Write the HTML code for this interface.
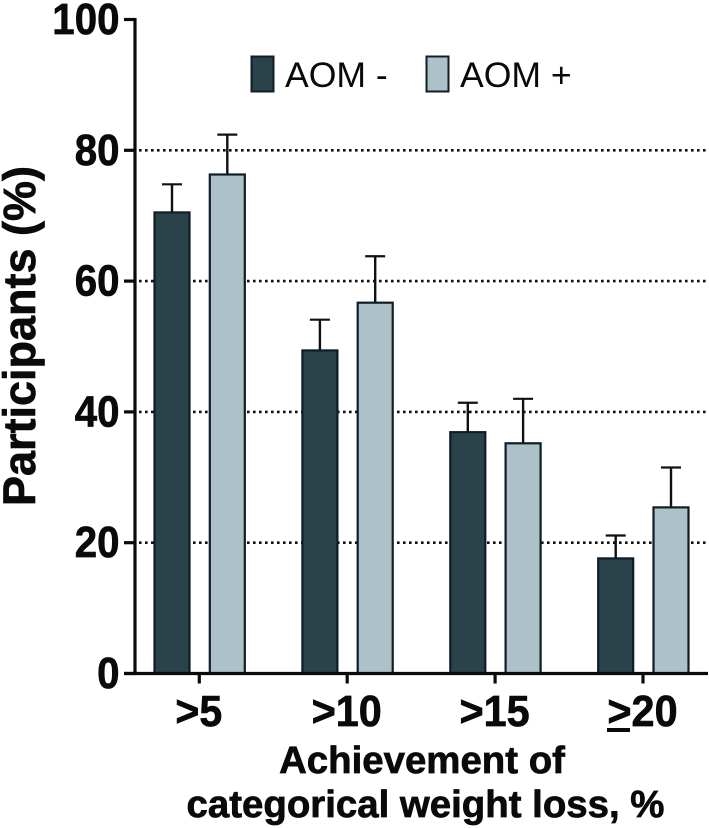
<!DOCTYPE html>
<html>
<head>
<meta charset="utf-8">
<title>Participants achieving categorical weight loss</title>
<style>
html,body{margin:0;padding:0;background:#fff;width:709px;height:828px;overflow:hidden}
svg{display:block}
text{font-family:"Liberation Sans",sans-serif;fill:#0a0a0a}
.b{font-weight:bold;stroke:#0a0a0a;stroke-width:0.7px}
</style>
</head>
<body>
<svg id="chart" xmlns="http://www.w3.org/2000/svg" width="709" height="828" viewBox="0 0 709 828"></svg>
<script>
const categories = ['>5', '>10', '>15', '>20'];
const aomMinus = [70.5, 49.4, 36.9, 17.6];
const aomPlus = [76.3, 56.7, 35.2, 25.4];
const aomMinusErrTop = [74.8, 54.1, 41.4, 21.1];
const aomPlusErrTop = [82.4, 63.8, 42.0, 31.5];
const yTicks = [0, 20, 40, 60, 80, 100];
const gridValues = [20, 40, 60, 80];

const svg = document.getElementById('chart');
const NS = 'http://www.w3.org/2000/svg';
function y(v) { return 673.5 - v * 6.54; }
function groupX(i) { return 199.3 + i * 147.9; }
function make(tag, attrs, text) {
  const el = document.createElementNS(NS, tag);
  for (const k in attrs) el.setAttribute(k, attrs[k]);
  if (text !== undefined) el.textContent = text;
  svg.appendChild(el);
  return el;
}
const DARK = '#2a4249', LIGHT = '#adc1c8', EDGE = '#101c26';

// gridlines
gridValues.forEach(function (v) {
  const el = make('line', {x1: 139, x2: 708, y1: y(v), y2: y(v), stroke: '#111', 'stroke-width': 2.6, 'stroke-dasharray': '2.6 3.4'});
  
  
});

// bars and error bars
function drawSeries(values, tops, offset, fill, name) {
  values.forEach(function (v, i) {
    const cx = groupX(i) + offset;
    const stem = make('line', {x1: cx, x2: cx, y1: y(tops[i]), y2: y(v), stroke: '#111', 'stroke-width': 2.4});
    
    
    const cap = make('line', {x1: cx - 10, x2: cx + 10, y1: y(tops[i]), y2: y(tops[i]), stroke: '#111', 'stroke-width': 2.2});
    
    
    const bar = make('rect', {x: cx - 17.5, y: y(v), width: 35, height: y(0) - y(v), fill: fill, stroke: EDGE, 'stroke-width': 2.2});
    
    
  });
}
drawSeries(aomMinus, aomMinusErrTop, -27.3, DARK, 'aom-minus');
drawSeries(aomPlus, aomPlusErrTop, 28, LIGHT, 'aom-plus');

// axes
const yAxis = make('line', {x1: 135, x2: 135, y1: y(100) - 1.5, y2: y(0) + 1.5, stroke: '#0a0a0a', 'stroke-width': 3.2});


const xAxis = make('line', {x1: 124, x2: 708, y1: y(0), y2: y(0), stroke: '#0a0a0a', 'stroke-width': 3.2});



yTicks.forEach(function (v) {
  const t = make('line', {x1: 124, x2: 135, y1: y(v), y2: y(v), stroke: '#0a0a0a', 'stroke-width': 3.2});
  
  
  const label = String(v);
  const l = make('text', {class: 'b', x: 119.5, y: y(v) + 14.5, 'text-anchor': 'end', 'font-size': 44, textLength: label.length * 22.4, lengthAdjust: 'spacingAndGlyphs'}, label);
  
  
});

categories.forEach(function (c, i) {
  const x = groupX(i);
  const t = make('line', {x1: x, x2: x, y1: y(0), y2: y(0) + 10, stroke: '#0a0a0a', 'stroke-width': 3.2});
  
  
  const l = make('text', {class: 'b', x: x - 0.5, y: 726, 'text-anchor': 'middle', 'font-size': 44, textLength: c.length * 23.4, lengthAdjust: 'spacingAndGlyphs'}, c);
  
  
});
// underline turning the last ">" into a greater-or-equal sign
const geBar = make('rect', {x: 607, y: 728, width: 23, height: 4, fill: '#0a0a0a'});



// axis titles
const yTitle = make('text', {class: 'b', transform: 'translate(35,336) rotate(-90)', 'text-anchor': 'middle', 'font-size': 45, x: 0, y: 0}, 'Participants (%)');


const xTitle1 = make('text', {class: 'b', x: 422, y: 773, 'text-anchor': 'middle', 'font-size': 38.4}, 'Achievement of');


const xTitle2 = make('text', {class: 'b', x: 425.5, y: 817, 'text-anchor': 'middle', 'font-size': 38.4}, 'categorical weight loss, %');



// legend
const swatch1 = make('rect', {x: 251.5, y: 56.5, width: 22, height: 35, fill: DARK, stroke: EDGE, 'stroke-width': 2});


const legend1 = make('text', {x: 285, y: 87, 'font-size': 35.6}, 'AOM -');


const swatch2 = make('rect', {x: 426.5, y: 56.5, width: 22, height: 35, fill: LIGHT, stroke: EDGE, 'stroke-width': 2});


const legend2 = make('text', {x: 460, y: 87, 'font-size': 35.6}, 'AOM +');


</script>
</body>
</html>
